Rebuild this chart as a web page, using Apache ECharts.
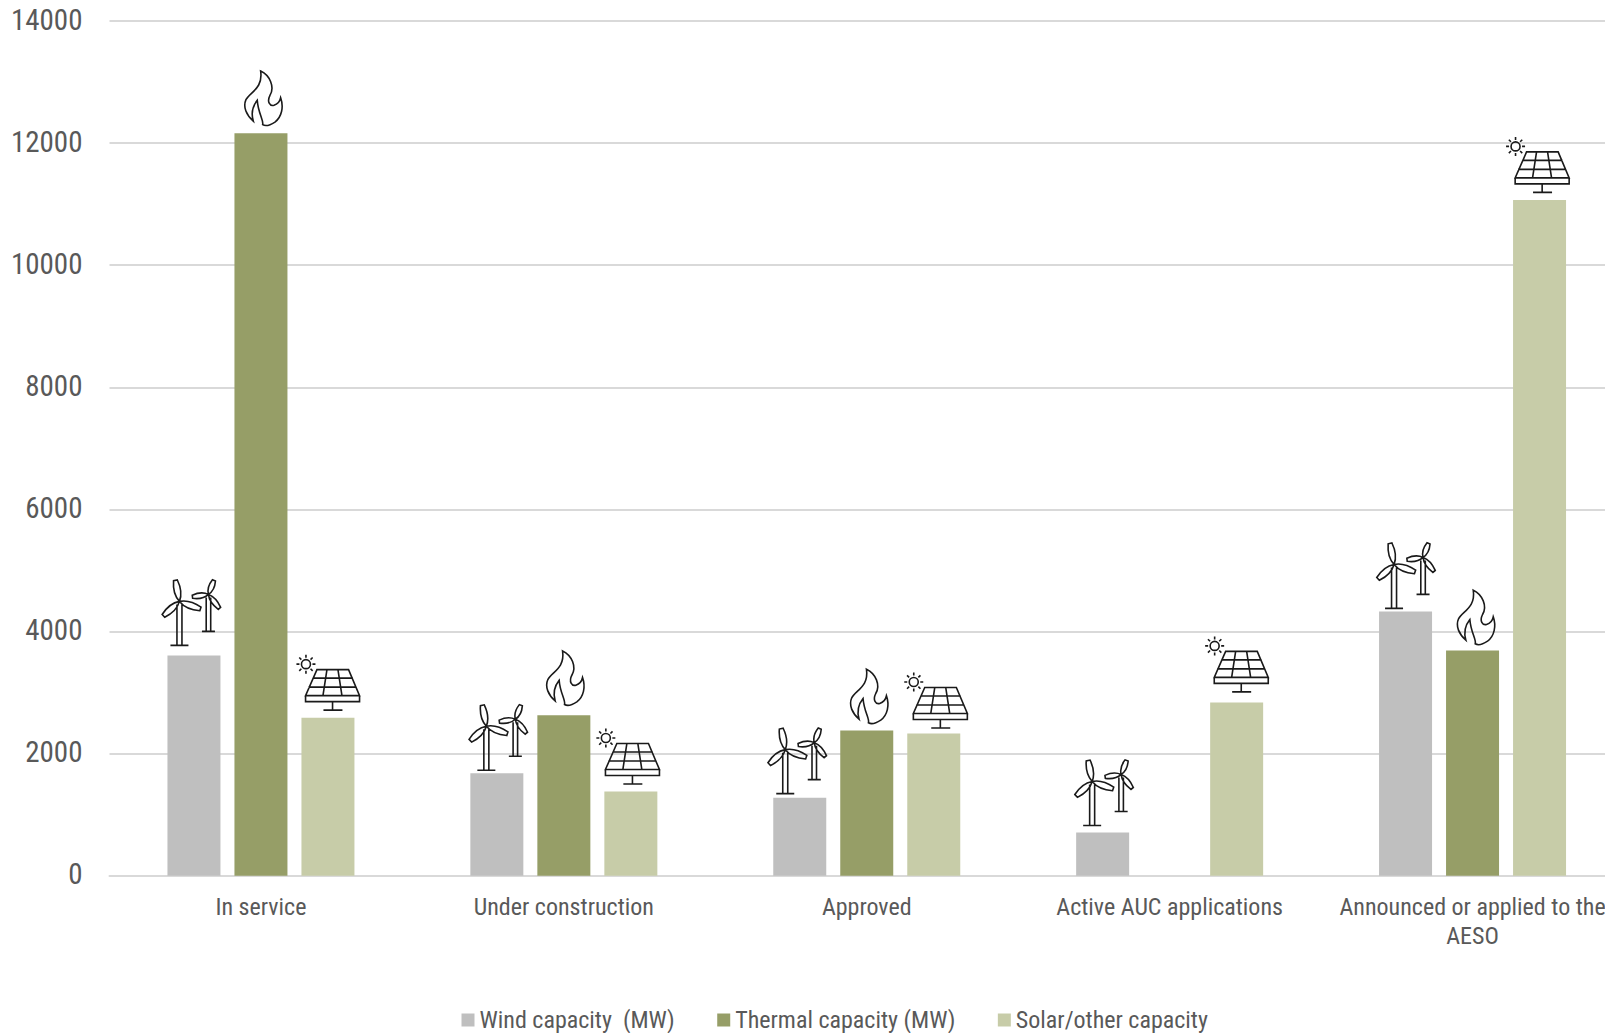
<!DOCTYPE html>
<html>
<head>
<meta charset="utf-8">
<style>
html,body{margin:0;padding:0;background:#fff;overflow:hidden}
#c{width:1605px;height:1033px}
#c svg text{font-stretch:75% !important;white-space:pre}
</style>
<script src="https://cdn.jsdelivr.net/npm/echarts@6/dist/echarts.min.js"></script>
</head>
<body>
<div id="c"></div>
<script>
const categories = ['In service','Under construction','Approved','Active AUC applications','Announced or applied to the\nAESO'];
const windValues = [3610,1680,1280,710,4330];
const thermalValues = [12160,2630,2380,null,3690];
const solarValues = [2590,1380,2330,2840,11070];
const seriesNames = ['Wind capacity  (MW)','Thermal capacity (MW)','Solar/other capacity'];
const yTicks = {min:0,max:14000,interval:2000};

// small per-icon nudges, px
const windNudge = [[0,0],[4,7],[0,6],[4,3],[3,7]];
const thermalNudge = [[0,0],[-1,-2],[0,1],[0,0],[1,2]];
const solarNudge = [[0,0],[-3,0],[2,2],[0,-3],[-2,0]];

const BAR = 53, GAP = 14;
const COLORS = ['#BFBFBF','#969E67','#C7CCA8'];
const TEXT = '#595959', LINE = '#D9D9D9';
const FONT = '"Roboto Condensed","Roboto",sans-serif';

function blade(hx,hy,tx,ty,w){
  const dx=tx-hx,dy=ty-hy,l=Math.hypot(dx,dy),nx=-dy/l*w,ny=dx/l*w;
  const mx=hx+dx*0.4,my=hy+dy*0.4;
  const f=n=>n.toFixed(1);
  return `M${f(hx)} ${f(hy)}Q${f(mx+nx*1.7)} ${f(my+ny*1.7)} ${f(tx+nx*0.6)} ${f(ty+ny*0.6)}L${f(tx-nx*0.6)} ${f(ty-ny*0.6)}Q${f(mx-nx*1.7)} ${f(my-ny*1.7)} ${f(hx)} ${f(hy)}Z`;
}
function turbine(hx,hy,baseY,tips,towerW,baseW,w){
  let p='';
  tips.forEach(t=>{p+=blade(hx,hy,hx+t[0],hy+t[1],w);});
  p+=`M${hx-towerW/2} ${hy+3}L${hx-towerW/2} ${baseY}M${hx+towerW/2} ${hy+3}L${hx+towerW/2} ${baseY}`;
  p+=`M${hx-baseW/2} ${baseY}L${hx+baseW/2} ${baseY}`;
  return p;
}
const windIcon = turbine(-14.5,-54,-10,[[-4,-21],[21,7.5],[-16,14.5]],5,18,3.2)
               + turbine(14.5,-61,-24,[[5.5,-14],[-16,2.4],[11,14]],4.5,13,2.6);
let sun='';
for(let i=0;i<8;i++){const a=i*Math.PI/4,c=Math.cos(a),s=Math.sin(a);
  sun+=`M${(-22+c*6.5).toFixed(1)} ${(-53.5+s*6.5).toFixed(1)}L${(-22+c*9.5).toFixed(1)} ${(-53.5+s*9.5).toFixed(1)}`;}
const solarIcon =
  'M-11 -48L20.6 -48L31.6 -22L-22.4 -22Z'+
  'M-22.4 -22L-22.4 -16L31.6 -16L31.6 -22'+
  'M-15 -39.5L25 -39.5M-19.5 -30.5L28.5 -30.5'+
  'M-1 -48L-5 -22M10 -48L14 -22'+
  'M4.6 -16L4.6 -7.5M-4.5 -7.5L14.5 -7.5'+
  'M-17.5 -53.5A4.5 4.5 0 1 1 -26.5 -53.5A4.5 4.5 0 1 1 -17.5 -53.5Z'+sun;
const flameRaw=[[122,32],[150,45],[165,80],[150,105],[140,125],[150,138],[162,135],[172,132],[180,122],[182,112],[192,140],[185,170],[165,185],[150,195],[135,197],[128,193],[132,180],[115,160],[112,120],[100,135],[92,155],[100,182],[80,165],[68,140],[78,118],[90,95],[130,85],[122,32]];
const fp=flameRaw.map(p=>[(p[0]/3-41).toFixed(1),(p[1]/3-73).toFixed(1)]);
let flameIcon=`M${fp[0][0]} ${fp[0][1]}`;
for(let i=1;i<fp.length;i+=3){flameIcon+=`C${fp[i][0]} ${fp[i][1]} ${fp[i+1][0]} ${fp[i+1][1]} ${fp[i+2][0]} ${fp[i+2][1]}`;}
flameIcon+='Z';

const icons=[windIcon,flameIcon,solarIcon];
const nudges=[windNudge,thermalNudge,solarNudge];
const valueSets=[windValues,thermalValues,solarValues];
const iconData=[];
valueSets.forEach((vals,s)=>vals.forEach((v,i)=>{ if(v!=null) iconData.push([i,v,s]); }));

const chart=echarts.init(document.getElementById('c'),null,{renderer:'svg',width:1605,height:1033});
const barSeries=valueSets.map((vals,s)=>({
  name:seriesNames[s],type:'bar',data:vals,barWidth:BAR,barGap:(GAP/BAR*100)+'%',
  itemStyle:{color:COLORS[s]},silent:true,animation:false
}));
chart.setOption({
  animation:false,
  backgroundColor:'#fff',
  grid:{left:109.5,top:21,width:1514.5,height:854.8,containLabel:false,outerBoundsMode:'none'},
  legend:{
    data:seriesNames,left:461.5,top:1008,padding:0,itemWidth:13,itemHeight:13,itemGap:42.5,
    icon:'rect',selectedMode:false,
    textStyle:{color:TEXT,fontSize:24,fontFamily:FONT}
  },
  xAxis:{
    type:'category',data:categories,
    axisLine:{lineStyle:{color:LINE,width:2}},axisTick:{show:false},
    axisLabel:{color:TEXT,fontSize:24,fontFamily:FONT,margin:16,lineHeight:29.5,interval:0,hideOverlap:false}
  },
  yAxis:{
    type:'value',min:yTicks.min,max:yTicks.max,interval:yTicks.interval,
    axisLine:{show:false},axisTick:{show:false},
    splitLine:{lineStyle:{color:LINE,width:2}},
    axisLabel:{
      color:TEXT,margin:27,
      formatter:v=>`{t|${v}}`,
      rich:{t:{color:TEXT,fontSize:29,fontFamily:FONT,padding:[0,0,3,0]}}
    }
  },
  series:[...barSeries,{
    type:'custom',silent:true,z:5,data:iconData,
    encode:{x:0,y:1},
    renderItem(params,api){
      const cat=api.value(0),v=api.value(1),s=api.value(2);
      const p=api.coord([cat,v]);
      const n=nudges[s][cat];
      return {type:'path',x:p[0]+(s-1)*(BAR+GAP)+n[0],y:p[1]+n[1],
        shape:{pathData:icons[s]},
        style:{fill:'none',stroke:'#1a1a1a',lineWidth:1.6}};
    }
  }]
});
</script>
</body>
</html>
